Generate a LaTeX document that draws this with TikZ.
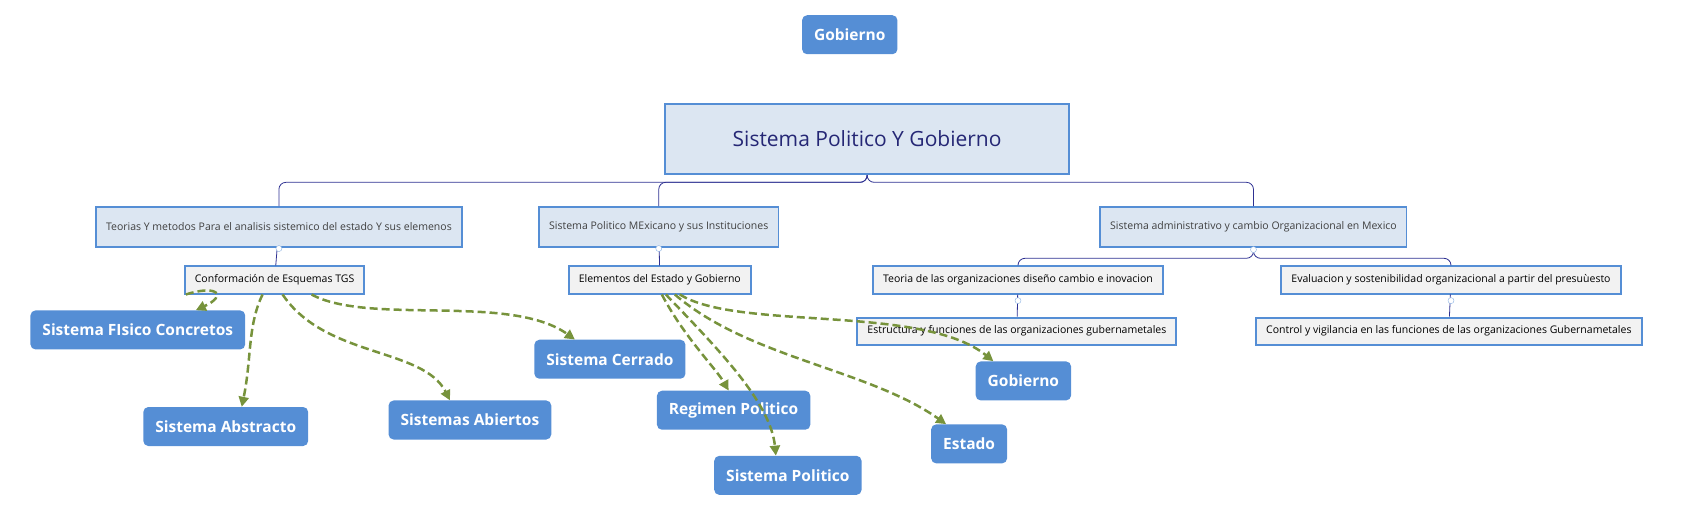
\documentclass[tikz,border=0pt]{standalone}
\usepackage{fontspec}
\setmainfont{Open Sans}
\usetikzlibrary{positioning,arrows.meta}
\definecolor{frame}{HTML}{558ED5}
\definecolor{topicfill}{HTML}{DCE6F2}
\definecolor{subfill}{HTML}{F2F2F2}
\definecolor{linkblue}{HTML}{2E3192}
\definecolor{relgreen}{HTML}{77933C}
\begin{document}
\begin{tikzpicture}[x=1.085pt,y=-1.085pt]
    %styles
    \tikzset{
      central/.style={rectangle,draw=frame,line width=2.5pt,fill=topicfill,minimum width=404pt,minimum height=70pt,font=\fontsize{21}{24}\selectfont,text=linkblue!80!black},
      topic/.style={rectangle,draw=frame,line width=1.5pt,fill=topicfill,minimum height=40pt,font=\fontsize{10.5}{12}\selectfont,text=black!75,inner xsep=10pt},
      subtopic/.style={rectangle,draw=frame,line width=2pt,fill=subfill,minimum height=27pt,font=\fontsize{10.5}{12}\selectfont,inner xsep=10pt},
      floating/.style={rectangle,rounded corners=5pt,fill=frame,text=white,minimum height=39pt,font=\fontsize{15.5}{18}\selectfont\bfseries,inner xsep=12pt},
      branch/.style={linkblue,line width=0.8pt,rounded corners=7pt},
      fold/.style={circle,draw=frame!70,fill=white,inner sep=0pt,minimum size=6pt},
      relation/.style={-{Triangle[length=10pt,width=10pt]},relgreen,line width=2.5pt,dash pattern=on 8pt off 4pt}
    }
    \useasboundingbox (0,0) rectangle (1560,470);
    %nodes
    \node[floating] (gob0) at (783,32) {Gobierno};
    \node[central] (root) at (799,128) {Sistema Politico Y Gobierno};
    \node[topic] (teorias) at (257,209) {Teorias Y metodos Para el analisis sistemico del estado Y sus elemenos};
    \node[topic] (mexicano) at (607,209) {Sistema Politico MExicano y sus Instituciones};
    \node[topic] (admin) at (1155,209) {Sistema administrativo y cambio Organizacional en Mexico};
    \node[subtopic] (tgs) at (253,258) {Conformación de Esquemas TGS};
    \node[subtopic] (elementos) at (608,258) {Elementos del Estado y Gobierno};
    \node[subtopic] (orgs) at (938,258) {Teoria de las organizaciones diseño cambio e inovacion};
    \node[subtopic] (evalua) at (1337,258) {Evaluacion y sostenibilidad organizacional a partir del presuùesto};
    \node[subtopic] (estructura) at (937,305) {Estructura y funciones de las organizaciones gubernametales};
    \node[subtopic] (control) at (1335,305) {Control y vigilancia en las funciones de las organizaciones Gubernametales};

    %tree
    \draw[branch] (root.south) -- (799,168) -| (teorias.north);
    \draw[branch] (root.south) -- (799,168) -| (mexicano.north);
    \draw[branch] (root.south) -- (799,168) -| (admin.north);
    \draw[branch] (teorias) -- (tgs);
    \draw[branch] (mexicano) -- (elementos);
    \draw[branch] (admin.south) -- (1155,238) -| (orgs.north);
    \draw[branch] (admin.south) -- (1155,238) -| (evalua.north);
    \draw[branch] (orgs) -- (estructura);
    \draw[branch] (evalua) -- (control);
    \node[fold] (f1) at (257,229) {};
    \node[fold] (f2) at (607,229) {};
    \node[fold] (f3) at (1155,230) {};
    \node[fold] (f4) at (938,277) {};
    \node[fold] (f5) at (1337,277) {};

    \node[floating] (fisico) at (127,304) {Sistema FIsico Concretos};
    \node[floating] (abstracto) at (208,393) {Sistema Abstracto};
    \node[floating] (abiertos) at (433,387) {Sistemas Abiertos};
    \node[floating] (cerrado) at (562,331) {Sistema Cerrado};
    \node[floating] (regimen) at (676,378) {Regimen Politico};
    \node[floating] (spolitico) at (726,438) {Sistema Politico};
    \node[floating] (gob1) at (943,351) {Gobierno};
    \node[floating] (estado) at (893,409) {Estado};

    %relations
    \draw[relation] ([xshift=2pt]tgs.south west) .. controls (200,262) and (210,272) .. ([xshift=58pt]fisico.north);
    \draw[relation] ([xshift=-12pt]tgs.south) .. controls (228,300) and (232,330) .. ([xshift=16pt]abstracto.north);
    \draw[relation] ([xshift=8pt]tgs.south) .. controls (300,330) and (390,320) .. ([xshift=-20pt]abiertos.north);
    \draw[relation] ([xshift=37pt]tgs.south) .. controls (340,300) and (470,270) .. ([xshift=-35pt]cerrado.north);
    \draw[relation] ([xshift=2pt]elementos.south) .. controls (630,310) and (660,340) .. ([xshift=-5pt]regimen.north);
    \draw[relation] ([xshift=6pt]elementos.south) .. controls (660,320) and (710,370) .. ([xshift=-12pt]spolitico.north);
    \draw[relation] ([xshift=15pt]elementos.south) .. controls (690,330) and (800,340) .. ([xshift=-23pt]estado.north);
    \draw[relation] ([xshift=20pt]elementos.south) .. controls (680,305) and (850,280) .. ([xshift=-30pt]gob1.north);
\end{tikzpicture}
\end{document}
